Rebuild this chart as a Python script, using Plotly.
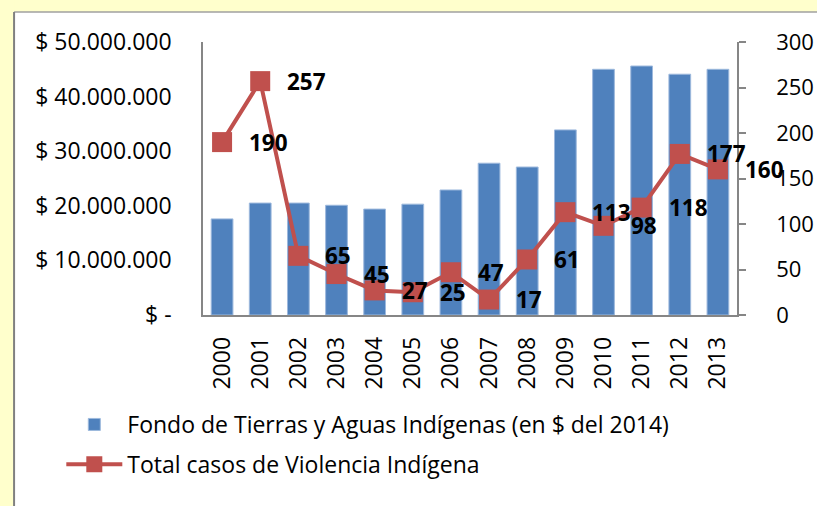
import plotly.graph_objects as go

years = [str(y) for y in range(2000, 2014)]
fondo = [17.6e6, 20.5e6, 20.5e6, 20.1e6, 19.4e6, 20.3e6, 22.9e6, 27.8e6, 27.1e6,
         33.9e6, 45.0e6, 45.6e6, 44.1e6, 45.0e6]
casos = [190, 257, 65, 45, 27, 25, 47, 17, 61, 113, 98, 118, 177, 160]
left_ticks = [0, 1e7, 2e7, 3e7, 4e7, 5e7]
left_labels = ["$ -", "$ 10.000.000", "$ 20.000.000", "$ 30.000.000", "$ 40.000.000", "$ 50.000.000"]
right_ticks = [0, 50, 100, 150, 200, 250, 300]
bar_name = "Fondo de Tierras y Aguas Indígenas (en $ del 2014)"
line_name = "Total casos de Violencia Indígena"

BLUE = "#4F81BD"
RED = "#C0504D"
GRAY = "#868686"
YELLOW = "#FFFFCC"
FONT = "Open Sans"

fig = go.Figure()
fig.add_trace(go.Bar(x=years, y=fondo, name=bar_name, legendgroup="a",
                     marker=dict(color=BLUE, line=dict(color="#9DB9DD", width=1)),
                     width=0.57, yaxis="y"))
fig.add_trace(go.Scatter(x=years, y=casos, name=line_name, legendgroup="b", mode="lines+markers",
                         line=dict(color=RED, width=4),
                         marker=dict(symbol="square", size=20, color=RED),
                         yaxis="y2"))

for i, v in enumerate(casos):
    fig.add_annotation(x=i, y=v, xref="x", yref="y2", text="<b>%d</b>" % v, showarrow=False,
                       xanchor="left", yanchor="middle", xshift=25,
                       font=dict(family=FONT, size=22.5, color="black"))

W, H = 826, 506
L, R, T, B = 203, 757, 42, 315
pw, ph = R - L, B - T

def px(x):
    return (x - L) / pw

def py(y):
    return (B - y) / ph

# yellow frame strips (top and left) and the grey border of the chart area
fig.add_shape(type="rect", xref="paper", yref="paper", x0=px(-10), x1=px(840), y0=py(12), y1=py(-10),
              fillcolor=YELLOW, line=dict(width=0), layer="below")
fig.add_shape(type="rect", xref="paper", yref="paper", x0=px(-10), x1=px(7), y0=py(520), y1=py(-10),
              fillcolor=YELLOW, line=dict(width=0), layer="below")
fig.add_shape(type="line", xref="paper", yref="paper", x0=px(7), x1=px(840), y0=py(12), y1=py(12),
              line=dict(color="#A0A0A0", width=1.5), layer="below")
fig.add_shape(type="line", xref="paper", yref="paper", x0=px(7), x1=px(7), y0=py(12), y1=py(520),
              line=dict(color="#808080", width=2), layer="below")

fig.update_layout(
    width=W, height=H,
    margin=dict(l=L, r=W - R, t=T, b=H - B, pad=0),
    paper_bgcolor="white", plot_bgcolor="white",
    font=dict(family=FONT, size=21, color="black"),
    showlegend=True,
    legend=dict(x=px(56), y=py(403), xanchor="left", yanchor="top", bgcolor="rgba(0,0,0,0)",
                font=dict(family=FONT, size=23), tracegroupgap=7,
                itemwidth=56),
    bargap=0.43,
    xaxis=dict(type="category", range=[-0.5, 13.5], tickangle=-90, showline=True, linecolor=GRAY, linewidth=1.5,
               ticks="", showgrid=False, tickfont=dict(size=23), zeroline=False, ticklabelstandoff=11),
    yaxis=dict(range=[0, 5e7], tickvals=left_ticks, ticktext=left_labels, showline=True, linecolor=GRAY,
               linewidth=1.5, ticks="", showgrid=False, zeroline=False, ticklabelstandoff=25,
               tickfont=dict(size=23)),
    yaxis2=dict(range=[0, 300], tickvals=right_ticks, overlaying="y", side="right", showline=True,
                linecolor=GRAY, linewidth=1.5, ticks="outside", ticklen=7, tickcolor=GRAY, tickwidth=1.5,
                showgrid=False, zeroline=False, tickfont=dict(size=22), ticklabelstandoff=26),
)

fig.write_html("out.html", config={"displayModeBar": False},
               post_script="document.body.style.margin='0';document.body.style.background='white';")
